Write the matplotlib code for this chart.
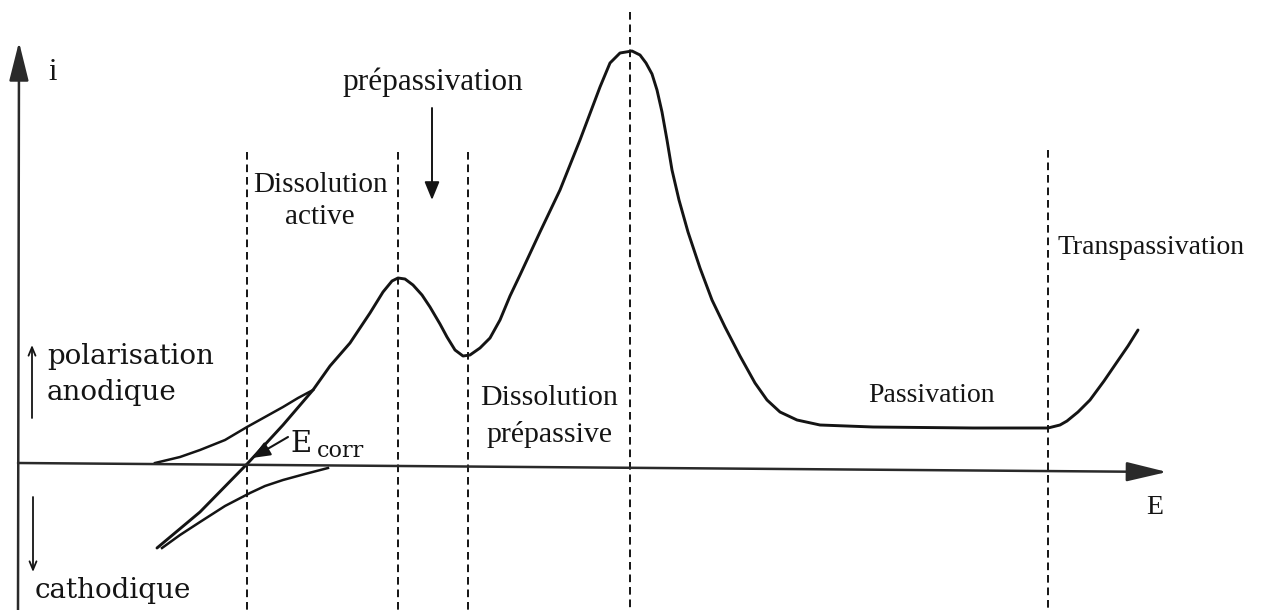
import matplotlib
matplotlib.use("Agg")
from matplotlib import pyplot as plt

# coordinates of the sketch: E to the right, i downwards (screen units)
curve_E = [157, 200, 248, 283, 313, 330, 350, 370, 383, 392, 398, 405, 413, 422,
           430, 440, 447, 455, 463, 470, 480, 490, 500, 510, 520, 540, 560, 580,
           600, 610, 620, 632, 640, 646, 652, 657, 662, 667, 672, 679, 688, 700,
           712, 725, 740, 755, 767, 780, 797, 820, 873, 973, 1048, 1060, 1067,
           1078, 1090, 1104, 1117, 1128, 1138]
curve_i = [548, 512, 463, 425, 390, 366, 343, 313, 292, 281, 278, 279, 285, 295,
           307, 324, 337, 350, 356, 355, 348, 338, 320, 296, 275, 232, 190, 140,
           87, 63, 53, 51, 55, 63, 74, 90, 112, 140, 170, 200, 232, 268,
           300, 327, 356, 383, 400, 412, 420, 425, 427, 428, 428, 425, 421,
           412, 400, 381, 362, 346, 330]

# anodic and cathodic partial branches
anod_E = [155, 180, 200, 225, 247, 265, 283, 298, 313]
anod_i = [463, 457, 450, 440, 427, 417, 407, 398, 390]
cath_E = [162, 180, 200, 225, 250, 265, 283, 305, 328]
cath_i = [548, 535, 522, 506, 493, 486, 480, 474, 468]

# region boundaries (E, top of the dashed line)
bound_E = [247, 398, 468, 630, 1048]
bound_top = [152, 152, 152, 12, 150]

ax_origin = (18, 463)
x_end = (1167, 472)
y_top = (19, 42)
y_bottom = (18, 610)

plt.rcParams['lines.scale_dashes'] = False
fig = plt.figure(figsize=(12.64, 6.10), dpi=100)
ax = fig.add_axes([0, 0, 1, 1])
ax.set_xlim(0, 1264)
ax.set_ylim(610, 0)
ax.axis('off')

ink = '#141414'

# axes drawn as arrows
ax.annotate('', xy=x_end, xytext=ax_origin,
            arrowprops=dict(arrowstyle='-|>,head_length=2.5,head_width=0.6',
                            color='#2a2a2a', lw=1.8, shrinkA=0, shrinkB=0))
ax.annotate('', xy=y_top, xytext=y_bottom,
            arrowprops=dict(arrowstyle='-|>,head_length=2.4,head_width=0.6',
                            color='#2a2a2a', lw=1.8, shrinkA=0, shrinkB=0))

for e, top in zip(bound_E, bound_top):
    ax.plot([e, e], [top, 610], color=ink, lw=1.4, linestyle=(0, (5.5, 3.5)))

ax.plot(curve_E, curve_i, color=ink, lw=2.1, solid_capstyle='round',
        solid_joinstyle='round')
ax.plot(anod_E, anod_i, color=ink, lw=1.8, solid_joinstyle='round')
ax.plot(cath_E, cath_i, color=ink, lw=1.8, solid_joinstyle='round')

times = 'Liberation Serif'
cent = 'DejaVu Serif'

ax.text(53, 73, 'i', fontsize=22, family=times, color=ink, ha='center', va='center')
ax.text(1155, 507, 'E', fontsize=20, family=times, color=ink, ha='center', va='center')

ax.text(433, 82, 'prépassivation', fontsize=22.5, family=times, color=ink,
        ha='center', va='center')
ax.annotate('', xy=(432, 200), xytext=(432, 108),
            arrowprops=dict(arrowstyle='-|>,head_length=1.1,head_width=0.45',
                            color=ink, lw=1.4, shrinkA=0, shrinkB=0))

ax.text(320, 185, 'Dissolution', fontsize=21, family=times, color=ink,
        ha='center', va='center')
ax.text(320, 217, 'active', fontsize=21, family=times, color=ink,
        ha='center', va='center')
ax.text(549, 398, 'Dissolution', fontsize=21.5, family=times, color=ink,
        ha='center', va='center')
ax.text(549, 434, 'prépassive', fontsize=21.5, family=times, color=ink,
        ha='center', va='center')
ax.text(932, 395, 'Passivation', fontsize=20, family=times, color=ink,
        ha='center', va='center')
ax.text(1058, 248, 'Transpassivation', fontsize=20, family=times, color=ink,
        ha='left', va='center')

ax.text(47, 357, 'polarisation', fontsize=20, family=cent, color=ink,
        ha='left', va='center')
ax.text(47, 392, 'anodique', fontsize=20, family=cent, color=ink,
        ha='left', va='center')
ax.text(35, 590, 'cathodique', fontsize=20, family=cent, color=ink,
        ha='left', va='center')
ax.annotate('', xy=(32, 345), xytext=(32, 418),
            arrowprops=dict(arrowstyle='->,head_length=0.6,head_width=0.25',
                            color=ink, lw=1.3, shrinkA=0, shrinkB=0))
ax.annotate('', xy=(33, 572), xytext=(33, 497),
            arrowprops=dict(arrowstyle='->,head_length=0.6,head_width=0.25',
                            color=ink, lw=1.3, shrinkA=0, shrinkB=0))

# E_corr pointer
ax.annotate('', xy=(252, 458), xytext=(288, 437),
            arrowprops=dict(arrowstyle='-|>,head_length=1.1,head_width=0.45',
                            color=ink, lw=1.5, shrinkA=0, shrinkB=0))
ax.text(290, 444, 'E', fontsize=21, family=cent, color=ink, ha='left', va='center')
ax.text(317, 451, 'corr', fontsize=16, family=cent, color=ink, ha='left', va='center')

fig.savefig('out.png', dpi=100, facecolor='white')
